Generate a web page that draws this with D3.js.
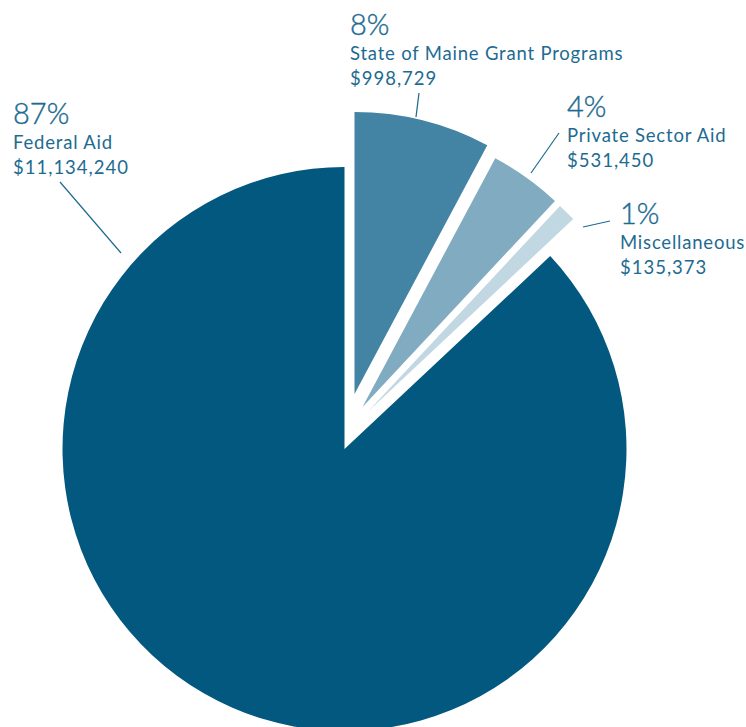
<!DOCTYPE html>
<html><head><meta charset="utf-8">
<script src="https://cdn.jsdelivr.net/npm/d3@7"></script>
<style>html,body{margin:0;padding:0;background:#fff;}svg{display:block;}</style>
</head><body>
<svg id="chart" width="746" height="727"></svg>
<script>
const categories = ["State of Maine Grant Programs", "Private Sector Aid", "Miscellaneous", "Federal Aid"];
const values = [998729, 531450, 135373, 11134240];
const percentLabels = ["8%", "4%", "1%", "87%"];
const amountLabels = ["$998,729", "$531,450", "$135,373", "$11,134,240"];

const colors = ["#4383a3", "#80abc0", "#c1d7e1", "#03587f"];
const textColor = "#1e6b91";
const cx = 344.5, cy = 449, R = 282;
// explode offsets (layout only)
const offsets = [[10, -55], [18, -42], [23, -37], [0, 0]];
const labelPos = [[350, 35], [567, 117], [620, 224], [13, 124]];
const leaders = [[[419, 93], [416, 117]], [[559, 133], [531, 173]], [[610, 221], [583, 227]], [[60, 182], [121, 253]]];

const svg = d3.select("#chart");
const pie = d3.pie().sort(null).value(d => d)(values);
const arc = d3.arc().innerRadius(0).outerRadius(R);

const g = svg.append("g");
g.selectAll("path").data(pie).join("path")
  .attr("transform", (d, i) => `translate(${cx + offsets[i][0]},${cy + offsets[i][1]})`)
  .attr("d", arc)
  .attr("fill", (d, i) => colors[i]);

leaders.forEach(l => {
  svg.append("line").attr("x1", l[0][0]).attr("y1", l[0][1]).attr("x2", l[1][0]).attr("y2", l[1][1])
    .attr("stroke", textColor).attr("stroke-width", 1.2);
});

const font = "Lato, 'Open Sans', sans-serif";
categories.forEach((c, i) => {
  const [x, y] = labelPos[i];
  const t = svg.append("g").attr("fill", textColor).style("font-family", font);
  t.append("text").attr("x", x).attr("y", y).style("font-size", "29px").style("font-weight", 300).style("stroke", textColor).style("stroke-width", 0.4).text(percentLabels[i]);
  t.append("text").attr("x", x).attr("y", y + 25).style("font-size", "18.5px").style("font-weight", 400).style("letter-spacing", "0.8px").text(c);
  t.append("text").attr("x", x).attr("y", y + 50).style("font-size", "18.5px").style("font-weight", 400).style("letter-spacing", "1px").text(amountLabels[i]);
});
</script>
</body></html>
